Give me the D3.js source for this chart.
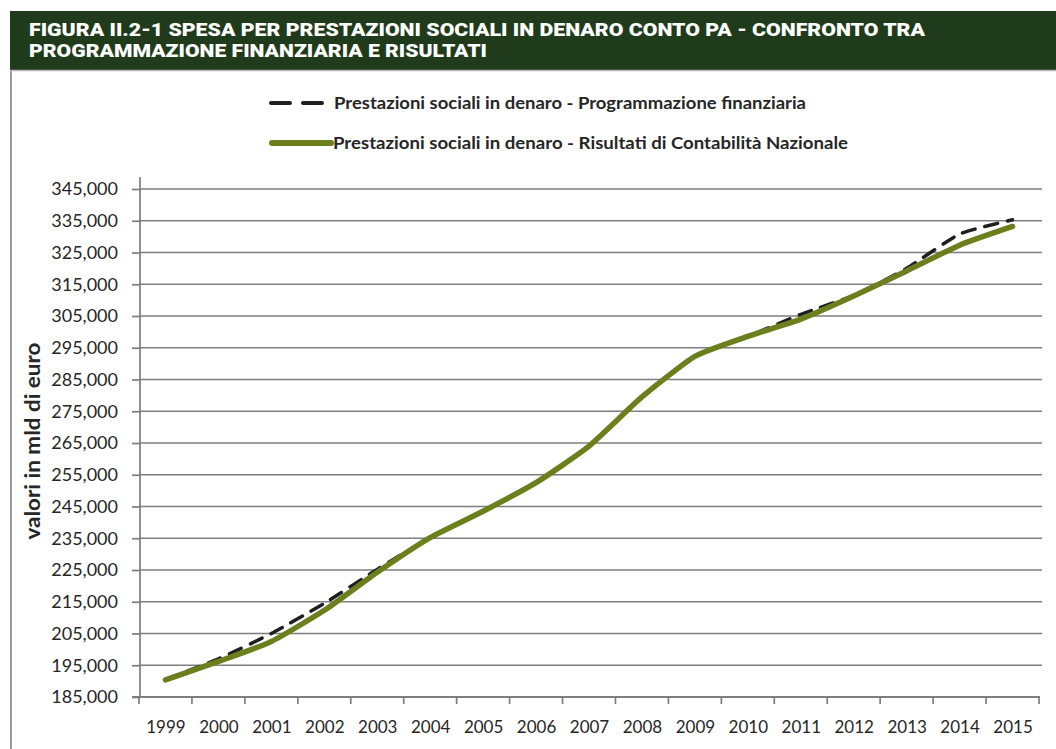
<!DOCTYPE html>
<html>
<head>
<meta charset="utf-8">
<script src="https://cdn.jsdelivr.net/npm/d3@7"></script>
<style>
  html, body { margin: 0; padding: 0; background: #ffffff; }
  svg { display: block; }
</style>
</head>
<body>
<svg id="chart" width="1056" height="749"></svg>
<script>
// ---------- DATA ----------
const titleLines = [
  "FIGURA II.2-1 SPESA PER PRESTAZIONI SOCIALI IN DENARO CONTO PA - CONFRONTO TRA",
  "PROGRAMMAZIONE FINANZIARIA E RISULTATI"
];
const years = ["1999","2000","2001","2002","2003","2004","2005","2006","2007","2008","2009","2010","2011","2012","2013","2014","2015"];
const programmazione = [190500, 197000, 205000, 214500, 225200, 235200, 243500, 252500, 264000, 279500, 292300, 298600, 305500, 311500, 320000, 330800, 335300];
const risultati      = [190400, 196200, 202500, 212300, 224300, 235200, 243500, 252500, 264000, 279500, 292300, 298600, 304000, 311300, 319200, 327300, 333200];
const seriesNames = [
  "Prestazioni sociali in denaro - Programmazione finanziaria",
  "Prestazioni sociali in denaro - Risultati di Contabilità Nazionale"
];
const yTicks = [185000,195000,205000,215000,225000,235000,245000,255000,265000,275000,285000,295000,305000,315000,325000,335000,345000];
const yTitle = "valori in mld di euro";

(function () {
// ---------- LAYOUT ----------
const svg = d3.select("#chart");
const pL = 140, pR = 1039, pT = 189, pB = 697;
const GREEN = "#6b7f1c", GRID = "#7e7e7e", TEXT = "#262626";

// frame
svg.append("rect").attr("x", 0).attr("y", 0).attr("width", 1056).attr("height", 749).attr("fill", "#fff");
svg.append("line").attr("x1", 11).attr("x2", 11).attr("y1", 70).attr("y2", 749)
  .attr("stroke", "#9a9a9a").attr("stroke-width", 2);

// title bar
svg.append("rect").attr("x", 10).attr("y", 11).attr("width", 1046).attr("height", 59).attr("fill", "#1f3b1b");
svg.append("line").attr("x1", 10).attr("x2", 1056).attr("y1", 70.5).attr("y2", 70.5).attr("stroke", "#b8b8b8").attr("stroke-width", 1.5);
const titleLens = [896, 458];
titleLines.forEach((t, i) => {
  svg.append("text")
    .attr("x", 29).attr("y", 36 + i * 20.5)
    .attr("fill", "#ffffff")
    .attr("font-family", "Roboto, 'DejaVu Sans Condensed', sans-serif")
    .attr("font-weight", 900)
    .attr("font-size", 17.5)
    .attr("textLength", titleLens[i])
    .attr("lengthAdjust", "spacingAndGlyphs")
    .text(t);
});

// ---------- SCALES ----------
const xBand = d3.scaleBand().domain(years).range([pL - 1, pR]).padding(0);
const xc = d => xBand(d) + xBand.bandwidth() / 2;
const y = d3.scaleLinear().domain([185000, 345000]).range([pB, pT]);

// gridlines
svg.append("g").selectAll("line").data(yTicks.slice(1)).join("line")
  .attr("x1", pL).attr("x2", pR + 3)
  .attr("y1", d => y(d)).attr("y2", d => y(d))
  .attr("stroke", GRID).attr("stroke-width", 1.7);

// y axis
const yAxis = d3.axisLeft(y).tickValues(yTicks).tickSize(8).tickPadding(14)
  .tickFormat(d3.format(",.0f"));
const gy = svg.append("g").attr("transform", `translate(${pL},0)`).call(yAxis);
gy.select(".domain").remove();
gy.selectAll(".tick line").attr("stroke", GRID).attr("stroke-width", 1.7);
gy.selectAll(".tick text").attr("fill", TEXT)
  .attr("font-family", "Lato, 'Open Sans', sans-serif").attr("font-size", 18);
svg.append("line").attr("x1", pL).attr("x2", pL).attr("y1", 177).attr("y2", pB)
  .attr("stroke", GRID).attr("stroke-width", 1.7);

// x axis
svg.append("line").attr("x1", pL - 8).attr("x2", pR + 1).attr("y1", pB).attr("y2", pB)
  .attr("stroke", GRID).attr("stroke-width", 1.9);
const xEdges = years.map(d => xBand(d)).concat([xBand(years[years.length - 1]) + xBand.bandwidth()]);
svg.append("g").selectAll("line").data(xEdges).join("line")
  .attr("x1", d => d).attr("x2", d => d).attr("y1", pB).attr("y2", pB + 7)
  .attr("stroke", GRID).attr("stroke-width", 1.7);
const xAxis = d3.axisBottom(d3.scalePoint().domain(years).range([xc(years[0]), xc(years[years.length - 1])]))
  .tickSize(0).tickPadding(24);
const gx = svg.append("g").attr("transform", `translate(0,${pB})`).call(xAxis);
gx.select(".domain").remove();
gx.selectAll(".tick text").attr("fill", TEXT)
  .attr("font-family", "Lato, 'Open Sans', sans-serif").attr("font-size", 17);

// y title
svg.append("text")
  .attr("transform", "translate(40,441) rotate(-90)")
  .attr("text-anchor", "middle")
  .attr("fill", TEXT)
  .attr("font-family", "Lato, 'Open Sans', sans-serif")
  .attr("font-weight", 700).attr("font-size", 20)
  .attr("textLength", 197).attr("lengthAdjust", "spacingAndGlyphs")
  .text(yTitle);

// ---------- LINES ----------
const line = d3.line().x((d, i) => xc(years[i])).y(d => y(d)).curve(d3.curveCardinal.tension(0.45));
svg.append("path").datum(programmazione).attr("d", line)
  .attr("fill", "none").attr("stroke", "#1e1e1e").attr("stroke-width", 3.5)
  .attr("stroke-dasharray", "13,10").attr("stroke-linecap", "round");
svg.append("path").datum(risultati).attr("d", line)
  .attr("fill", "none").attr("stroke", GREEN).attr("stroke-width", 5.5)
  .attr("stroke-linecap", "round").attr("stroke-linejoin", "round");

// ---------- LEGEND ----------
const lg = svg.append("g");
lg.append("line").attr("x1", 271).attr("x2", 290).attr("y1", 103).attr("y2", 103)
  .attr("stroke", "#1e1e1e").attr("stroke-width", 4).attr("stroke-linecap", "round");
lg.append("line").attr("x1", 303).attr("x2", 322).attr("y1", 103).attr("y2", 103)
  .attr("stroke", "#1e1e1e").attr("stroke-width", 4).attr("stroke-linecap", "round");
lg.append("line").attr("x1", 272).attr("x2", 331).attr("y1", 143).attr("y2", 143)
  .attr("stroke", GREEN).attr("stroke-width", 6).attr("stroke-linecap", "round");
const legendLens = [472, 515];
seriesNames.forEach((s, i) => {
  lg.append("text").attr("x", i === 0 ? 334 : 333).attr("y", 109 + i * 40)
    .attr("fill", TEXT)
    .attr("font-family", "Lato, 'Open Sans', sans-serif")
    .attr("font-weight", 700).attr("font-size", 17.5)
    .attr("textLength", legendLens[i]).attr("lengthAdjust", "spacingAndGlyphs")
    .text(s);
});
})();
</script>
</body>
</html>
